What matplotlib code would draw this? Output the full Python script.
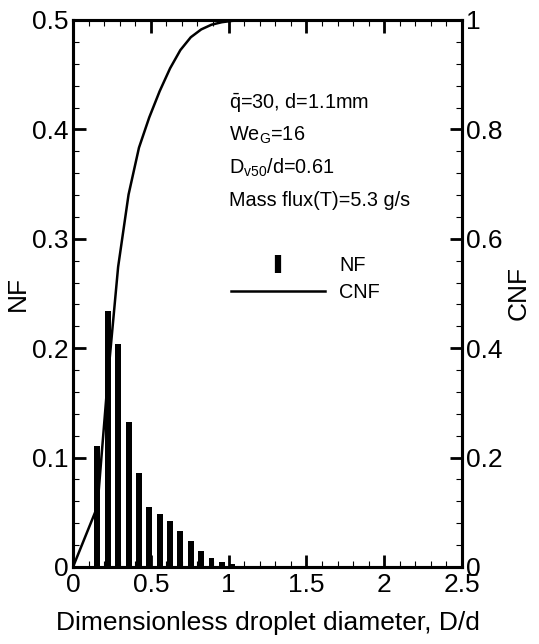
import matplotlib
matplotlib.use("Agg")
import matplotlib.pyplot as plt
import numpy as np
from matplotlib.lines import Line2D
from matplotlib.ticker import MultipleLocator, FuncFormatter

plt.rcParams["font.family"] = ["Liberation Sans", "DejaVu Sans"]
plt.rcParams["mathtext.fontset"] = "custom"
plt.rcParams["mathtext.rm"] = "Liberation Sans"
plt.rcParams["mathtext.it"] = "Liberation Sans"

# number fraction per size class (D/d)
size_class = [0.157, 0.224, 0.290, 0.357, 0.424, 0.490, 0.557,
              0.624, 0.690, 0.757, 0.824, 0.890, 0.957, 1.024, 1.090]
nf = [0.1105, 0.2344, 0.2037, 0.1322, 0.0858, 0.0553, 0.0480,
      0.0418, 0.0333, 0.0235, 0.0143, 0.0086, 0.0046, 0.0025, 0.0008]

# cumulative number fraction
cnf_x = [0.0] + size_class
cnf = list(np.concatenate([[0.0], np.cumsum(nf)]))

info_lines = [
    r"$\bar{\mathrm{q}}$=30, d=1.1mm",
    r"We$_\mathrm{G}$=16",
    r"D$_\mathrm{v50}$/d=0.61",
    "Mass flux(T)=5.3 g/s",
]

W, H = 539, 644
x0, x1, y0, y1 = 73, 462, 20, 567

fig = plt.figure(figsize=(W / 100, H / 100), dpi=100)
ax = fig.add_axes([x0 / W, 1 - y1 / H, (x1 - x0) / W, (y1 - y0) / H])
ax2 = ax.twinx()

ax.bar(size_class, nf, width=0.038, color="black")
ax2.plot(cnf_x, cnf, color="black", lw=1.8)

ax.set_xlim(0, 2.5)
ax.set_ylim(0, 0.5)
ax2.set_ylim(0, 1)

fmt = FuncFormatter(lambda v, p: f"{v:g}")
ax.xaxis.set_major_locator(MultipleLocator(0.5))
ax.xaxis.set_minor_locator(MultipleLocator(0.1))
ax.yaxis.set_major_locator(MultipleLocator(0.1))
ax.yaxis.set_minor_locator(MultipleLocator(0.02))
ax2.yaxis.set_major_locator(MultipleLocator(0.2))
ax2.yaxis.set_minor_locator(MultipleLocator(0.04))
ax.xaxis.set_major_formatter(fmt)
ax.yaxis.set_major_formatter(fmt)
ax2.yaxis.set_major_formatter(fmt)

fs = 19
ax.tick_params(which="both", direction="in", top=True, labelsize=fs, pad=3)
ax.tick_params(axis="x", pad=4.5)
ax.tick_params(which="major", length=9, width=2)
ax.tick_params(which="minor", length=4.5, width=0.8)
ax2.tick_params(which="both", direction="in", labelsize=fs, pad=3)
ax2.tick_params(which="major", length=9, width=2)
ax2.tick_params(which="minor", length=4.5, width=0.8)
for a in (ax, ax2):
    for s in a.spines.values():
        s.set_linewidth(2.2)

ax.set_xlabel("Dimensionless droplet diameter, D/d", fontsize=fs, labelpad=10)
ax.set_ylabel("NF", fontsize=fs, labelpad=2)
ax2.set_ylabel("CNF", fontsize=fs, labelpad=3)

for i, line in enumerate(info_lines):
    ax.text((229 - x0) / (x1 - x0), (y1 - 102 - 33 * i) / (y1 - y0), line,
            transform=ax.transAxes, fontsize=14.3, va="center", ha="left")

handles = [
    Line2D([], [], ls="none", marker="|", markersize=13.5, markeredgewidth=4.5,
           color="black"),
    Line2D([], [], color="black", lw=1.8),
]
ax.legend(handles, ["NF", "CNF"], loc="upper left",
          bbox_to_anchor=((231 - x0) / (x1 - x0), (y1 - 256) / (y1 - y0)),
          frameon=False, fontsize=14.3, handlelength=4.75, handletextpad=0.7,
          labelspacing=0.4, borderpad=0, borderaxespad=0)

fig.savefig("out.png", dpi=100)
